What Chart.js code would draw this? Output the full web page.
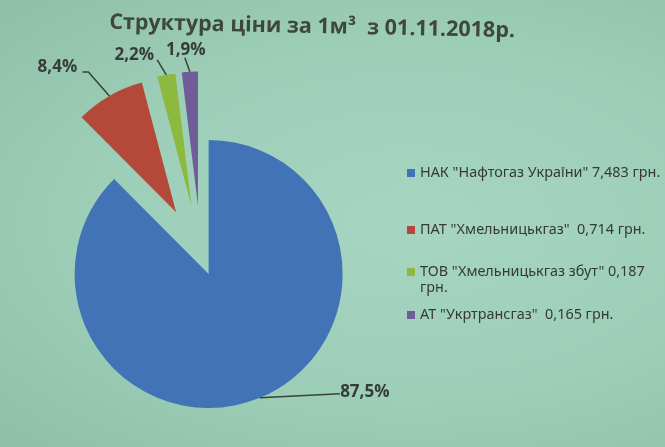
<!DOCTYPE html>
<html>
<head>
<meta charset="utf-8">
<script src="https://cdn.jsdelivr.net/npm/chart.js@4.4.0/dist/chart.umd.min.js"></script>
<style>
  html, body { margin: 0; padding: 0; }
  body {
    width: 665px; height: 447px; overflow: hidden;
    background: radial-gradient(ellipse at 62% 50%, #a6d6c2 0%, #9dceb8 55%, #8fbfa7 100%);
  }
</style>
</head>
<body>
<canvas id="pieCanvas" width="665" height="447"></canvas>
<script>
const titleText = 'Структура ціни за 1м³  з 01.11.2018р.';
const companies = ['НАК "Нафтогаз України"', 'ПАТ "Хмельницькгаз" ', 'ТОВ "Хмельницькгаз збут"', 'АТ "Укртрансгаз" '];
const prices = [7.483, 0.714, 0.187, 0.165]; // грн. за 1 м³
const sliceColors = ['#4173b6', '#b4493a', '#8cb93e', '#6f5c99'];

const total = prices.reduce((a, b) => a + b, 0);
const fmt = (v, d) => v.toFixed(d).replace('.', ',');

// draw each arc moved out along its middle angle (exploded pie)
const explodePlugin = {
    id: 'explode',
    beforeDatasetDraw(chart, args, opts) {
        const ctx = chart.ctx;
        args.meta.data.forEach((arc, i) => {
            const mid = (arc.startAngle + arc.endAngle) / 2;
            const d = opts.distances[i] || 0;
            ctx.save();
            ctx.translate(Math.cos(mid) * d, Math.sin(mid) * d);
            arc.draw(ctx, chart.chartArea);
            ctx.restore();
        });
        return false;
    }
};

// percent labels with leader lines
const pctLabels = {
    id: 'pctLabels',
    afterDatasetsDraw(chart, args, opts) {
        const ctx = chart.ctx;
        const dist = chart.options.plugins.explode.distances;
        const meta = chart.getDatasetMeta(0);
        ctx.save();
        ctx.font = opts.font;
        ctx.textAlign = 'center';
        ctx.textBaseline = 'middle';
        meta.data.forEach((arc, i) => {
            const mid = (arc.startAngle + arc.endAngle) / 2;
            const r = arc.outerRadius + (dist[i] || 0);
            const ax = arc.x + Math.cos(mid) * r;
            const ay = arc.y + Math.sin(mid) * r;
            const lay = opts.layout[i];
            ctx.strokeStyle = opts.lineColor;
            ctx.lineWidth = 1.5;
            ctx.beginPath();
            ctx.moveTo(ax, ay);
            if (lay.elbow) ctx.lineTo(ax + lay.elbow[0], ay + lay.elbow[1]);
            const ex = ax + lay.end[0], ey = ay + lay.end[1];
            ctx.lineTo(ex, ey);
            ctx.stroke();
            ctx.fillStyle = opts.color;
            ctx.fillText(fmt(prices[i] / total * 100, 1) + '%', ex + lay.text[0], ey + lay.text[1]);
        });
        ctx.restore();
    }
};

// title and legend drawn on the right
const sideText = {
    id: 'sideText',
    afterDraw(chart, args, opts) {
        const ctx = chart.ctx;
        ctx.save();
        // title
        ctx.font = 'bold 26px "Open Sans"';
        let w = ctx.measureText(titleText).width;
        const tSize = 26 * opts.titleWidth / w;
        ctx.font = 'bold ' + tSize.toFixed(1) + 'px "Open Sans"';
        ctx.fillStyle = opts.titleColor;
        ctx.textAlign = 'center';
        ctx.textBaseline = 'alphabetic';
        ctx.translate(opts.titleX, opts.titleY);
        ctx.rotate(opts.titleTilt * Math.PI / 180);
        ctx.fillText(titleText, 0, 0);
        ctx.restore();

        // legend
        ctx.save();
        const items = companies.map((c, i) => c + ' ' + fmt(prices[i], 3) + ' грн.');
        ctx.font = '14px "Noto Sans"';
        w = ctx.measureText(items[0]).width;
        const lSize = 14 * opts.firstItemWidth / w;
        ctx.font = lSize.toFixed(1) + 'px "Noto Sans"';
        ctx.textAlign = 'left';
        ctx.textBaseline = 'middle';
        items.forEach((txt, i) => {
            const y = opts.itemY[i];
            ctx.fillStyle = sliceColors[i];
            ctx.fillRect(opts.boxX, y - 4, 8, 8);
            // simple word wrap
            const words = txt.split(' ');
            const lines = [];
            let line = '';
            words.forEach(wd => {
                const test = line ? line + ' ' + wd : wd;
                if (ctx.measureText(test).width > opts.wrapWidth && line) {
                    lines.push(line);
                    line = wd;
                } else {
                    line = test;
                }
            });
            lines.push(line);
            ctx.fillStyle = opts.textColor;
            lines.forEach((ln, k) => ctx.fillText(ln, opts.textX, y + k * 16));
        });
        ctx.restore();
    }
};

new Chart(document.getElementById('pieCanvas'), {
    type: 'pie',
    data: {
        labels: companies,
        datasets: [{
            data: prices,
            backgroundColor: sliceColors,
            borderWidth: 0
        }]
    },
    options: {
        responsive: false,
        animation: false,
        radius: 134,
        layout: { padding: { left: 0, right: 263, top: 64, bottom: 0 } },
        plugins: {
            legend: { display: false },
            tooltip: { enabled: false },
            title: { display: false },
            explode: { distances: [20, 50, 50, 50] },
            pctLabels: {
                font: 'bold 17px "Open Sans"',
                color: '#363d38',
                lineColor: '#34443a',
                layout: [
                    { end: [80, -4], text: [25, -2] },
                    { elbow: [-21, -24], end: [-27, -24], text: [-25, -5] },
                    { end: [-9, -15], text: [-23, -5] },
                    { end: [-5, -14], text: [1, -8] }
                ]
            },
            sideText: {
                titleWidth: 405, titleX: 312, titleY: 33, titleTilt: 1.2,
                titleColor: '#3d473a',
                boxX: 407, textX: 420, wrapWidth: 245, firstItemWidth: 241,
                itemY: [173, 230, 272, 315],
                textColor: '#353a36'
            }
        }
    },
    plugins: [explodePlugin, pctLabels, sideText]
});
</script>
</body>
</html>
